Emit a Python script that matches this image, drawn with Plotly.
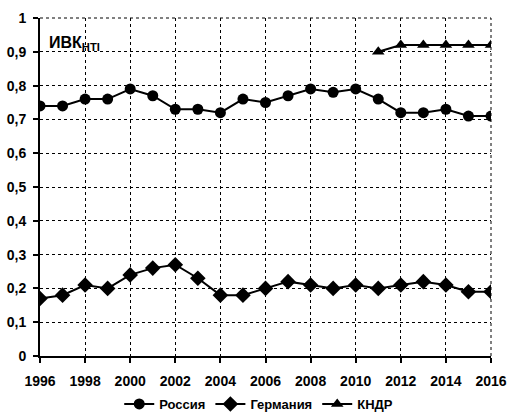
import plotly.graph_objects as go

years = list(range(1996, 2017))
russia = [0.74, 0.74, 0.76, 0.76, 0.79, 0.77, 0.73, 0.73, 0.72, 0.76, 0.75,
          0.77, 0.79, 0.78, 0.79, 0.76, 0.72, 0.72, 0.73, 0.71, 0.71]
germany = [0.17, 0.18, 0.21, 0.20, 0.24, 0.26, 0.27, 0.23, 0.18, 0.18, 0.20,
           0.22, 0.21, 0.20, 0.21, 0.20, 0.21, 0.22, 0.21, 0.19, 0.19]
kndr_years = [2011, 2012, 2013, 2014, 2015, 2016]
kndr = [0.90, 0.92, 0.92, 0.92, 0.92, 0.92]
x_ticks = list(range(1996, 2017, 2))
y_ticks = [0, 0.1, 0.2, 0.3, 0.4, 0.5, 0.6, 0.7, 0.8, 0.9, 1]
y_labels = ["0", "0,1", "0,2", "0,3", "0,4", "0,5", "0,6", "0,7", "0,8", "0,9", "1"]

FONT = "Liberation Sans, Arial, sans-serif"

fig = go.Figure()
fig.add_trace(go.Scatter(x=years, y=russia, name="Россия", mode="lines+markers",
                         line=dict(color="black", width=2),
                         marker=dict(symbol="circle", size=11, color="black")))
fig.add_trace(go.Scatter(x=years, y=germany, name="Германия", mode="lines+markers",
                         line=dict(color="black", width=2),
                         marker=dict(symbol="diamond", size=12, color="black")))
fig.add_trace(go.Scatter(x=kndr_years, y=kndr, name="КНДР", mode="lines+markers",
                         line=dict(color="black", width=2),
                         marker=dict(symbol="triangle-up", size=11, color="black")))

# dotted top and right borders
fig.add_shape(type="line", xref="paper", yref="paper", x0=0, x1=1, y0=1, y1=1,
              line=dict(color="black", width=1, dash="dot"))
fig.add_shape(type="line", xref="paper", yref="paper", x0=1, x1=1, y0=0, y1=1,
              line=dict(color="black", width=1, dash="dot"))

fig.add_annotation(x=0.015, y=0.925, xref="paper", yref="paper", showarrow=False,
                   xanchor="left", yanchor="middle",
                   text="ИВК<sub>НТI</sub>",
                   font=dict(family=FONT, size=16, color="black", weight="bold"))

fig.update_layout(
    width=508, height=416,
    margin=dict(l=40, r=17, t=18, b=60, autoexpand=False),
    paper_bgcolor="white", plot_bgcolor="white",
    showlegend=True,
    legend=dict(orientation="h", x=0.485, xanchor="center", y=-0.142, yanchor="middle",
                font=dict(family=FONT, size=13, color="black", weight="bold"),
                itemwidth=30, tracegroupgap=0, bgcolor="rgba(0,0,0,0)"),
    font=dict(family=FONT, color="black"),
)
fig.update_xaxes(range=[1996, 2016], tickvals=x_ticks, showline=True, linecolor="black",
                 linewidth=2, ticks="outside", ticklen=5, tickwidth=2, tickcolor="black",
                 showgrid=True, gridcolor="black", gridwidth=1, griddash="dot",
                 zeroline=False, ticklabelstandoff=6,
                 tickfont=dict(family=FONT, size=14, color="black", weight="bold"))
fig.update_yaxes(range=[0, 1], tickvals=y_ticks, ticktext=y_labels, showline=True,
                 linecolor="black", linewidth=2, ticks="outside", ticklen=5, tickwidth=2,
                 tickcolor="black", showgrid=True, gridcolor="black", gridwidth=1,
                 griddash="dot", zeroline=False, ticklabelstandoff=4,
                 tickfont=dict(family=FONT, size=14, color="black", weight="bold"))

fig.write_html("out.html", config={"displayModeBar": False},
               post_script="document.body.style.margin='0px';")
